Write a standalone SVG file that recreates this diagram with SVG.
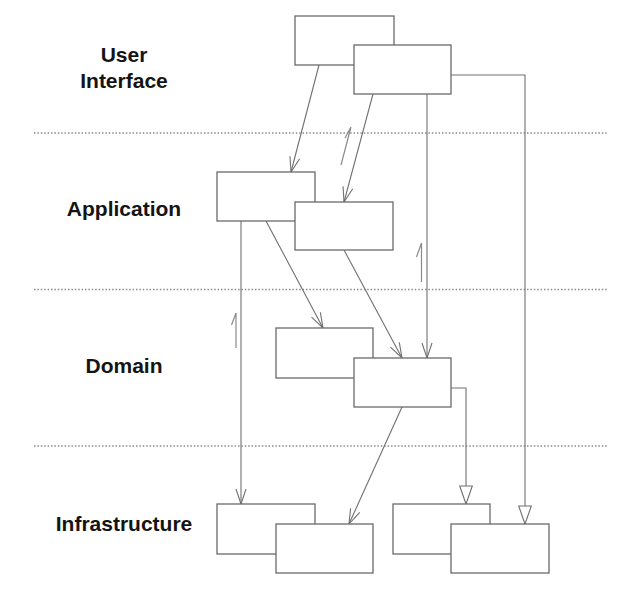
<svg xmlns="http://www.w3.org/2000/svg" width="638" height="600" viewBox="0 0 638 600">
<style>
.bg{fill:#fff}
.box{fill:#fff;stroke:#6a6a6a;stroke-width:1.3}
.lbl{font-family:"Liberation Sans",Arial,sans-serif;font-weight:bold;font-size:21px;fill:#141414;text-anchor:middle}
.sep{stroke:#8a8a8a;stroke-width:1.6;stroke-dasharray:1.5 1.9;fill:none}
.c{stroke:#707070;stroke-width:1.1;fill:none}
.mark{stroke:#8a8a8a;stroke-width:1.2;fill:none}
</style>
<defs>
<marker id="open" viewBox="-17 -8 19 16" markerWidth="19" markerHeight="16" refX="0" refY="0" orient="auto" markerUnits="userSpaceOnUse">
<path d="M-15,-5 L0,0 L-15,5" fill="none" stroke="#707070" stroke-width="1.1"/>
</marker>
<marker id="tri" viewBox="-20 -8 22 16" markerWidth="22" markerHeight="16" refX="0" refY="0" orient="auto" markerUnits="userSpaceOnUse">
<path d="M-18,-6.3 L0,0 L-18,6.3 Z" fill="#fff" stroke="#707070" stroke-width="1.1"/>
</marker>
</defs>
<rect class="bg" x="0" y="0" width="638" height="600"/>

<g id="layers">
<line class="sep" x1="34" y1="133" x2="608" y2="133"/>
<line class="sep" x1="34" y1="289.5" x2="608" y2="289.5"/>
<line class="sep" x1="34" y1="446" x2="608" y2="446"/>
<text class="lbl" x="124" y="62">User</text>
<text class="lbl" x="124" y="88">Interface</text>
<text class="lbl" x="124" y="216">Application</text>
<text class="lbl" x="124" y="373">Domain</text>
<text class="lbl" x="124" y="531">Infrastructure</text>
</g>

<g id="connectors">
<line class="c" x1="319" y1="65" x2="291" y2="172" marker-end="url(#open)"/>
<line class="c" x1="373" y1="94" x2="344" y2="202" marker-end="url(#open)"/>
<line class="c" x1="427" y1="94" x2="427" y2="358" marker-end="url(#open)"/>
<polyline class="c" points="451,75 525,75 525,524" marker-end="url(#tri)"/>
<line class="c" x1="241" y1="221" x2="241" y2="504" marker-end="url(#open)"/>
<line class="c" x1="266" y1="221" x2="323" y2="328" marker-end="url(#open)"/>
<line class="c" x1="344" y1="250" x2="402" y2="358" marker-end="url(#open)"/>
<line class="c" x1="402" y1="407" x2="349" y2="524" marker-end="url(#open)"/>
<polyline class="c" points="451,388 466,388 466,504" marker-end="url(#tri)"/>
<path class="mark" d="M341,165 L351,127 L345,138"/>
<path class="mark" d="M421.5,282 L421.5,243 L416.5,257"/>
<path class="mark" d="M236,348 L236,313 L231.5,325"/>
</g>

<g id="ui1"><rect class="box" x="295" y="16" width="99" height="49"/></g>
<g id="ui2"><rect class="box" x="354" y="45" width="97" height="49"/></g>
<g id="app1"><rect class="box" x="217" y="172" width="98" height="49"/></g>
<g id="app2"><rect class="box" x="295" y="202" width="98" height="48"/></g>
<g id="dom1"><rect class="box" x="276" y="328" width="97" height="50"/></g>
<g id="dom2"><rect class="box" x="354" y="358" width="97" height="49"/></g>
<g id="infra1"><rect class="box" x="217" y="504" width="98" height="50"/></g>
<g id="infra2"><rect class="box" x="276" y="524" width="97" height="49"/></g>
<g id="infra3"><rect class="box" x="393" y="504" width="97" height="50"/></g>
<g id="infra4"><rect class="box" x="451" y="524" width="98" height="49"/></g>
</svg>
